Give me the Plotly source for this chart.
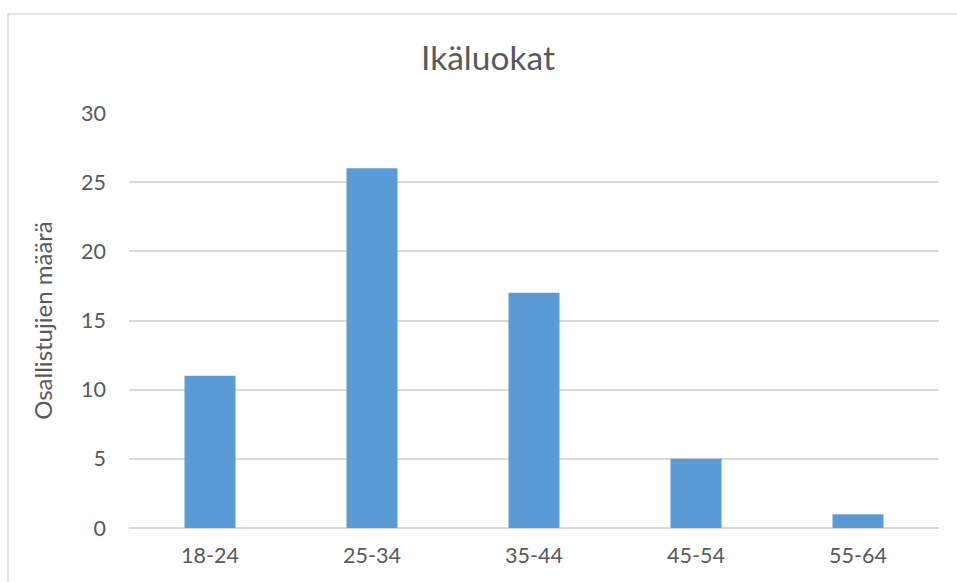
import plotly.graph_objects as go

categories = ["18-24", "25-34", "35-44", "45-54", "55-64"]
counts = [11, 26, 17, 5, 1]
y_ticks = [0, 5, 10, 15, 20, 25, 30]

W, H = 957, 582
L, R, T, B = 129, 18, 113, 54
pw = W - L - R
ph = H - T - B

FONT = "Lato"
GREY = "#595959"

fig = go.Figure()
fig.add_trace(go.Bar(x=categories, y=counts, marker=dict(color="#5B9BD5", line=dict(width=0))))

fig.update_layout(
    width=W, height=H,
    margin=dict(l=L, r=R, t=T, b=B),
    paper_bgcolor="white", plot_bgcolor="white",
    bargap=0.685,
    showlegend=False,
    font=dict(family=FONT, color=GREY),
    title=dict(text="Ikäluokat", x=488 / W, xanchor="center", xref="container",
               y=1 - 58 / H, yanchor="middle", yref="container",
               font=dict(family=FONT, size=33.5, color=GREY)),
)
fig.update_xaxes(showgrid=False, showline=False, zeroline=False, ticks="",
                 tickfont=dict(size=21.5, color=GREY), ticklabelstandoff=12)
fig.update_yaxes(range=[0, 30], tickvals=y_ticks, showgrid=True, gridcolor="#D9D9D9",
                 gridwidth=1.5, zeroline=True, zerolinecolor="#D9D9D9", zerolinewidth=1.5,
                 showline=False, ticks="", tickfont=dict(size=21.5, color=GREY),
                 ticklabelstandoff=22,
                 title=dict(text="Osallistujien määrä", font=dict(size=24, color=GREY), standoff=21))

# outer chart border (partly cropped)
fig.add_shape(type="rect", xref="paper", yref="paper",
              x0=(8 - L) / pw, x1=(970 - L) / pw,
              y0=(T + ph - 600) / ph, y1=(T + ph - 14) / ph,
              line=dict(color="#D9D9D9", width=1.5), fillcolor="rgba(0,0,0,0)", layer="below")

fig.write_html("out.html")
